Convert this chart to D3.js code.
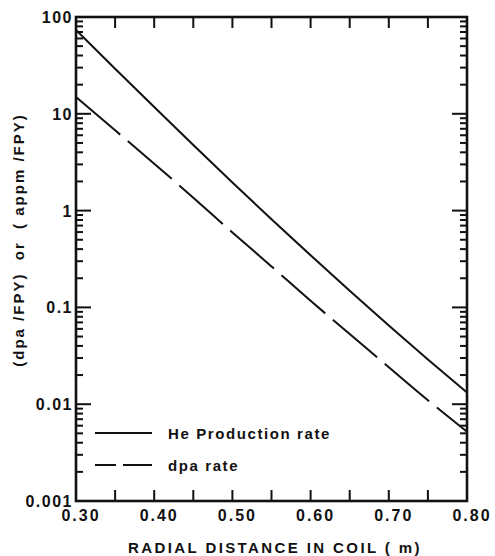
<!DOCTYPE html>
<html>
<head>
<meta charset="utf-8">
<script src="https://cdn.jsdelivr.net/npm/d3@7"></script>
<style>
  body { margin: 0; background: #fff; }
  svg { display: block; font-family: "Liberation Sans", Arial, sans-serif; }
  text { fill: #111; white-space: pre; }
</style>
</head>
<body>
<div id="chart"></div>
<script>
// radial distance in coil (m)
const radius = [0.30, 0.35, 0.40, 0.45, 0.50, 0.55, 0.60, 0.65, 0.70, 0.75, 0.80];
// He production rate (appm / FPY)
const heRate = [73.5, 29.2, 11.75, 4.76, 1.95, 0.815, 0.345, 0.149, 0.0652, 0.029, 0.0132];
// dpa rate (dpa / FPY)
const dpaRate = [14.9, 6.75, 3.05, 1.36, 0.595, 0.265, 0.117, 0.053, 0.0241, 0.0110, 0.0052];

const xTickLabels = [0.30, 0.40, 0.50, 0.60, 0.70, 0.80];
const xTicks = [0.35, 0.40, 0.45, 0.50, 0.55, 0.60, 0.65, 0.70, 0.75];
const yDecades = [0.001, 0.01, 0.1, 1, 10, 100];
const yDecadeLabels = ["0.001", "0.01", "0.1", "1", "10", "100"];

const svgWidth = 495, svgHeight = 556;
const plotLeft = 76, plotRight = 467, plotTop = 17, plotBottom = 501;

let svg = d3.select("#chart").append("svg")
    .attr("width", svgWidth)
    .attr("height", svgHeight);

let x = d3.scaleLinear().domain([0.3, 0.8]).range([plotLeft, plotRight]);
let y = d3.scaleLog().domain([0.001, 100]).range([plotBottom, plotTop]);

// minor log ticks 2..9 for every decade
let yMinor = [];
yDecades.slice(0, -1).forEach(d => {
    for (let k = 2; k <= 9; k++) yMinor.push(d * k);
});

//frame
svg.append("rect")
    .attr("x", plotLeft)
    .attr("y", plotTop)
    .attr("width", plotRight - plotLeft)
    .attr("height", plotBottom - plotTop)
    .attr("fill", "none")
    .attr("stroke", "#111")
    .attr("stroke-width", 2.6);

//tick marks, drawn as thin filled rects pointing inward
let tickRects = [];
xTicks.forEach(d => {
    tickRects.push({x: x(d) - 1, y: plotBottom - 11, w: 2, h: 11});
    tickRects.push({x: x(d) - 1, y: plotTop, w: 2, h: 11});
});
yDecades.forEach(d => {
    tickRects.push({x: plotLeft, y: y(d) - 1, w: 15, h: 2});
    tickRects.push({x: plotRight - 15, y: y(d) - 1, w: 15, h: 2});
});
yMinor.forEach(d => {
    tickRects.push({x: plotLeft, y: y(d) - 1, w: 7, h: 2});
    tickRects.push({x: plotRight - 7, y: y(d) - 1, w: 7, h: 2});
});

svg.append("g")
    .selectAll("rect")
    .data(tickRects)
    .enter()
    .append("rect")
    .attr("x", d => d.x)
    .attr("y", d => d.y)
    .attr("width", d => d.w)
    .attr("height", d => d.h)
    .attr("fill", "#111");

//tick labels
svg.append("g")
    .selectAll("text")
    .data(xTickLabels)
    .enter()
    .append("text")
    .attr("x", d => x(d) + 5)
    .attr("y", plotBottom + 20)
    .attr("text-anchor", "middle")
    .style("font-size", "16px")
    .style("font-weight", "bold")
    .style("letter-spacing", "2px")
    .text(d => d.toFixed(2));

svg.append("g")
    .selectAll("text")
    .data(yDecades)
    .enter()
    .append("text")
    .attr("x", plotLeft - 3)
    .attr("y", d => y(d) + 6)
    .attr("text-anchor", "end")
    .style("font-size", "16px")
    .style("font-weight", "bold")
    .style("letter-spacing", "1.5px")
    .text((d, i) => yDecadeLabels[i]);

//curves
const line = d3.line()
    .x(d => x(d[0]))
    .y(d => y(d[1]))
    .curve(d3.curveMonotoneX);

svg.append("path")
    .datum(d3.zip(radius, heRate))
    .attr("d", line)
    .attr("fill", "none")
    .attr("stroke", "#111")
    .attr("stroke-width", 2);

svg.append("path")
    .datum(d3.zip(radius, dpaRate))
    .attr("d", line)
    .attr("fill", "none")
    .attr("stroke", "#111")
    .attr("stroke-width", 2)
    .attr("stroke-dasharray", "58,10");

//legend
const legend = [
    {label: "He Production rate", dash: null, ly: 433},
    {label: "dpa rate", dash: "21,7,29", ly: 465}
];

svg.selectAll(".legline")
    .data(legend)
    .enter()
    .append("line")
    .attr("x1", 95)
    .attr("x2", 152)
    .attr("y1", d => d.ly)
    .attr("y2", d => d.ly)
    .attr("stroke", "#111")
    .attr("stroke-width", 2)
    .attr("stroke-dasharray", d => d.dash);

svg.selectAll(".legtext")
    .data(legend)
    .enter()
    .append("text")
    .attr("x", 168)
    .attr("y", d => d.ly + 6)
    .style("font-size", "15px")
    .style("font-weight", "bold")
    .style("letter-spacing", "1.6px")
    .text(d => d.label);

//axis titles
svg.append("text")
    .attr("x", 275)
    .attr("y", 553)
    .attr("text-anchor", "middle")
    .style("font-size", "15px")
    .style("font-weight", "bold")
    .style("letter-spacing", "2.4px")
    .text("RADIAL DISTANCE IN COIL ( m)");

svg.append("text")
    .attr("transform", "translate(24,240) rotate(-90)")
    .attr("text-anchor", "middle")
    .style("font-size", "15px")
    .style("font-weight", "bold")
    .style("letter-spacing", "2px")
    .text("(dpa /FPY)  or  ( appm /FPY)");
</script>
</body>
</html>
